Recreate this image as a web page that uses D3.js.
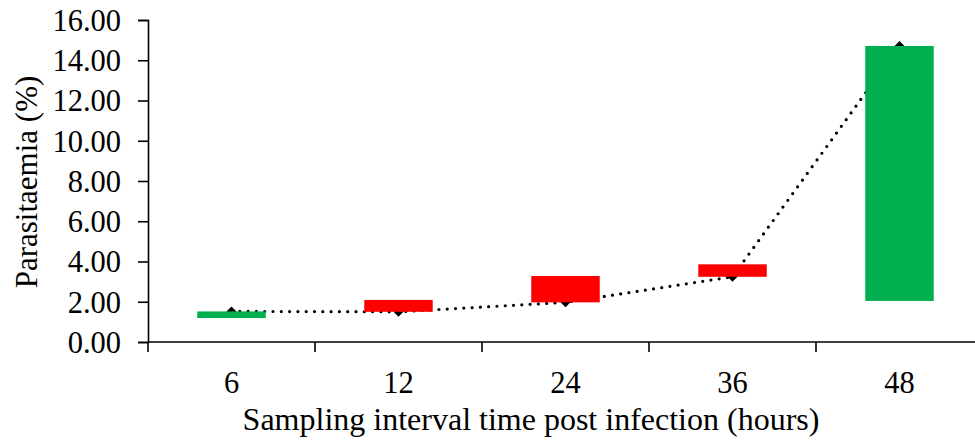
<!DOCTYPE html>
<html>
<head>
<meta charset="utf-8">
<script src="https://cdn.jsdelivr.net/npm/d3@7"></script>
<style>
  body { margin: 0; background: #fff; }
  svg { display: block; }
  text { font-family: "Liberation Serif", "Times New Roman", Times, serif; fill: #000; }
</style>
</head>
<body>
<div id="chart"></div>
<script>
// sampling intervals (hours post infection)
const categories = ['6', '12', '24', '36', '48'];
// up-down bars: first series (open) and last series (close, drawn as diamonds)
const openValues = [1.19, 2.09, 3.28, 3.86, 2.04];
const closeValues = [1.52, 1.50, 1.97, 3.24, 14.71];
const yTicks = [0, 2, 4, 6, 8, 10, 12, 14, 16];

const width = 975, height = 440;
const margin = { top: 20, right: -8, bottom: 98, left: 148 };

const svg = d3.select('#chart').append('svg')
    .attr('width', width)
    .attr('height', height);

const x = d3.scaleBand()
    .domain(categories)
    .range([margin.left, width - margin.right]);

const y = d3.scaleLinear()
    .domain([0, 16])
    .range([height - margin.bottom, margin.top]);

const rows = categories.map((c, i) => ({ cat: c, open: openValues[i], close: closeValues[i] }));

// y axis
const yAxis = svg.append('g')
    .attr('transform', `translate(${margin.left},0)`)
    .call(d3.axisLeft(y).tickValues(yTicks).tickFormat(d3.format('.2f')).tickSize(10).tickPadding(17));
yAxis.attr('font-family', null);
yAxis.select('.domain').attr('stroke', '#000').attr('stroke-width', 1.6);
yAxis.selectAll('.tick line').attr('stroke', '#000').attr('stroke-width', 1.6);
yAxis.selectAll('.tick text').style('font-size', '30.5px').attr('dy', '0.34em');

// x axis: ticks between categories
const xAxisG = svg.append('g')
    .attr('transform', `translate(0,${y(0)})`);
xAxisG.append('line')
    .attr('x1', margin.left).attr('x2', width)
    .attr('stroke', '#000').attr('stroke-width', 1.6);
const bounds = categories.map(c => x(c)).concat([x.range()[1]]);
xAxisG.selectAll('.xtick').data(bounds).enter().append('line')
    .attr('class', 'xtick')
    .attr('x1', d => d).attr('x2', d => d)
    .attr('y1', 0).attr('y2', 10)
    .attr('stroke', '#000').attr('stroke-width', 1.6);
xAxisG.selectAll('.xlabel').data(categories).enter().append('text')
    .attr('class', 'xlabel')
    .attr('x', d => x(d) + x.bandwidth() / 2)
    .attr('y', 51)
    .attr('text-anchor', 'middle')
    .style('font-size', '30.5px')
    .text(d => d);

// axis titles
svg.append('text')
    .attr('x', 531)
    .attr('y', 430)
    .attr('text-anchor', 'middle')
    .style('font-size', '32px')
    .text('Sampling interval time post infection (hours)');

svg.append('text')
    .attr('transform', `translate(37,182) rotate(-90)`)
    .attr('text-anchor', 'middle')
    .style('font-size', '31px')
    .text('Parasitaemia (%)');

// dotted line with diamonds (behind the bars)
const cx = d => x(d.cat) + x.bandwidth() / 2;
const line = d3.line().x(cx).y(d => y(d.close));
svg.append('path')
    .datum(rows)
    .attr('d', line)
    .attr('fill', 'none')
    .attr('stroke', '#000')
    .attr('stroke-width', 3.2)
    .attr('stroke-linecap', 'round')
    .attr('stroke-dasharray', '0 8.3');

svg.selectAll('.marker').data(rows).enter().append('path')
    .attr('class', 'marker')
    .attr('transform', d => `translate(${cx(d)},${y(d.close)})`)
    .attr('d', 'M0,-5L5,0L0,5L-5,0Z')
    .attr('fill', '#000');

// up-down bars
const barW = x.bandwidth() * 0.41;
svg.selectAll('.bar').data(rows).enter().append('rect')
    .attr('class', 'bar')
    .attr('x', d => cx(d) - barW / 2)
    .attr('width', barW)
    .attr('y', d => y(Math.max(d.open, d.close)))
    .attr('height', d => Math.abs(y(d.open) - y(d.close)))
    .attr('fill', d => d.close >= d.open ? '#00B050' : '#FF0000');
</script>
</body>
</html>
